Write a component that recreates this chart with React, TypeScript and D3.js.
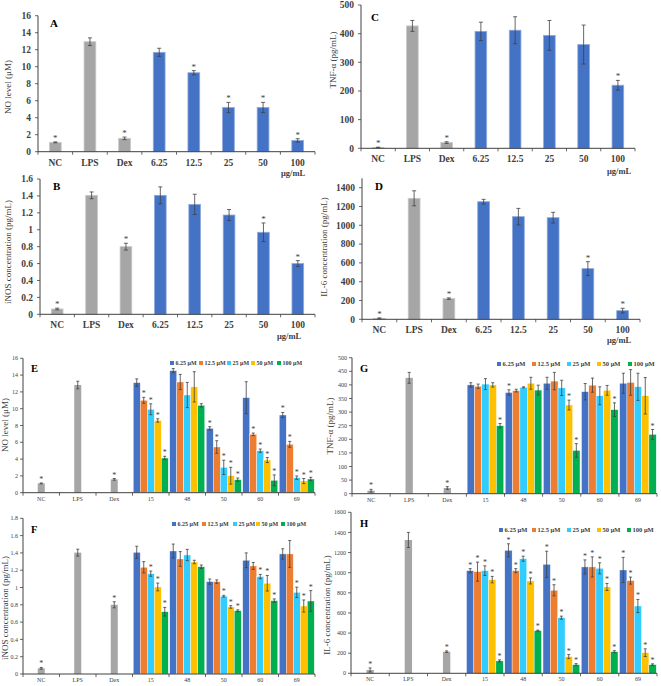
import React from "react";
import * as d3 from "d3";

// ---------- categories ----------
const topCats = ["NC", "LPS", "Dex", "6.25", "12.5", "25", "50", "100"];
const grpCats = ["NC", "LPS", "Dex", "15", "48", "50", "60", "69"];
const seriesNames = ["6.25 μM", "12.5 μM", "25 μM", "50 μM", "100 μM"];

// ---------- tick labels ----------
const ticksNO = [0, 2, 4, 6, 8, 10, 12, 14, 16];
const ticksTNF = [0, 100, 200, 300, 400, 500];
const ticksINOS = [0, 0.2, 0.4, 0.6, 0.8, 1, 1.2, 1.4, 1.6];
const ticksIL6 = [0, 200, 400, 600, 800, 1000, 1200, 1400];
const ticksTNF50 = [0, 50, 100, 150, 200, 250, 300, 350, 400, 450, 500];
const ticksINOS18 = [0, 0.2, 0.4, 0.6, 0.8, 1, 1.2, 1.4, 1.6, 1.8];
const ticksIL6b = [0, 200, 400, 600, 800, 1000, 1200, 1400, 1600];

// ---------- Panel A: NO level ----------
const aVals = [1.1, 12.94, 1.57, 11.69, 9.29, 5.2, 5.2, 1.33];
const aErr = [0.05, 0.45, 0.15, 0.48, 0.25, 0.6, 0.6, 0.2];
const aSig = [1, 0, 1, 0, 1, 1, 1, 1];

// ---------- Panel C: TNF-α ----------
const cVals = [3, 427, 20, 408, 412, 394, 362, 220];
const cErr = [1, 19, 3, 32, 47, 52, 68, 17];
const cSig = [1, 0, 1, 0, 0, 0, 0, 1];

// ---------- Panel B: iNOS ----------
const bVals = [0.063, 1.407, 0.8, 1.407, 1.3, 1.174, 0.97, 0.6];
const bErr = [0.01, 0.04, 0.04, 0.1, 0.12, 0.065, 0.11, 0.035];
const bSig = [1, 0, 1, 0, 0, 0, 1, 1];

// ---------- Panel D: IL-6 ----------
const dVals = [10, 1287, 220, 1251, 1092, 1081, 539, 92];
const dErr = [5, 80, 8, 25, 88, 57, 74, 25];
const dSig = [1, 0, 1, 0, 0, 0, 1, 1];

// ---------- Panel E: NO level (compounds) ----------
const eCtrl = [1.11, 12.82, 1.59];
const eCtrlErr = [0.05, 0.45, 0.1];
const eCtrlSig = [1, 0, 1];
const eVals = [
  [13.1, 11.0, 9.93, 8.6, 4.13],
  [14.53, 13.18, 11.63, 12.6, 10.4],
  [7.66, 5.44, 3.02, 2.02, 1.55],
  [11.31, 6.95, 5.0, 3.89, 1.47],
  [9.25, 5.76, 1.79, 1.39, 1.63],
];
const eErr = [
  [0.45, 0.35, 0.65, 0.2, 0.2],
  [0.25, 0.9, 1.5, 1.8, 0.2],
  [0.2, 0.75, 0.85, 1.0, 0.2],
  [1.9, 0.15, 0.2, 0.3, 0.65],
  [0.3, 0.35, 0.2, 0.3, 0.2],
];
const eSig = [
  [0, 1, 1, 1, 1],
  [0, 0, 0, 0, 0],
  [1, 1, 1, 1, 1],
  [0, 1, 1, 1, 1],
  [1, 1, 1, 1, 1],
];

// ---------- Panel G: TNF-α (compounds) ----------
const gCtrl = [11, 426, 21];
const gCtrlErr = [5, 20, 5];
const gCtrlSig = [1, 0, 1];
const gVals = [
  [400, 395, 403, 400, 250],
  [372, 379, 391, 406, 381],
  [406, 414, 389, 326, 159],
  [375, 399, 360, 380, 309],
  [406, 409, 393, 360, 218],
];
const gErr = [
  [8, 8, 20, 8, 8],
  [10, 5, 2, 22, 18],
  [22, 32, 28, 18, 25],
  [30, 26, 33, 18, 25],
  [37, 47, 50, 67, 18],
];
const gSig = [
  [0, 0, 0, 0, 1],
  [1, 0, 0, 0, 0],
  [0, 0, 0, 1, 1],
  [0, 0, 0, 0, 1],
  [0, 0, 0, 0, 1],
];

// ---------- Panel F: iNOS (compounds) ----------
const fCtrl = [0.066, 1.403, 0.8];
const fCtrlErr = [0.01, 0.04, 0.035];
const fCtrlSig = [1, 0, 1];
const fVals = [
  [1.407, 1.234, 1.16, 1.006, 0.72],
  [1.422, 1.33, 1.376, 1.295, 1.24],
  [1.068, 1.068, 0.9, 0.775, 0.732],
  [1.315, 1.249, 1.126, 1.049, 0.848],
  [1.388, 1.388, 0.944, 0.786, 0.844],
];
const fErr = [
  [0.07, 0.065, 0.03, 0.045, 0.05],
  [0.08, 0.085, 0.065, 0.02, 0.02],
  [0.03, 0.02, 0.01, 0.015, 0.01],
  [0.085, 0.04, 0.025, 0.09, 0.02],
  [0.06, 0.155, 0.06, 0.07, 0.12],
];
const fSig = [
  [0, 0, 1, 1, 1],
  [0, 0, 0, 0, 0],
  [0, 0, 1, 1, 1],
  [0, 0, 1, 1, 1],
  [0, 0, 1, 1, 1],
];

// ---------- Panel H: IL-6 (compounds) ----------
const hCtrl = [33, 1325, 215];
const hCtrlErr = [20, 75, 8];
const hCtrlSig = [1, 0, 1];
const hVals = [
  [1020, 1010, 1020, 931, 123],
  [1222, 1020, 1139, 918, 424],
  [1083, 825, 553, 166, 86],
  [1057, 1057, 1043, 858, 215],
  [1027, 921, 669, 205, 86],
];
const hErr = [
  [20, 95, 48, 32, 10],
  [65, 20, 25, 30, 5],
  [130, 55, 15, 20, 10],
  [70, 100, 55, 35, 10],
  [125, 35, 65, 38, 8],
];
const hSig = [
  [1, 1, 1, 1, 1],
  [1, 1, 1, 1, 1],
  [1, 1, 1, 1, 1],
  [1, 1, 1, 1, 1],
  [1, 1, 1, 1, 1],
];

// ---------- styles ----------
const SERIF = "'Liberation Serif', 'Times New Roman', serif";
const GREY = "#A6A6A6";
const BLUE = "#4472C4";
const SERIES_COLORS = ["#4472C4", "#ED7D31", "#33CCFF", "#FFC000", "#00B050"];
const AXIS = "#404040";
const TEXT = "#404040";
const ERR = "#404040";

type Frame = {
  left: number;
  right: number;
  y0: number;
  yRef: number;
  refVal: number;
  axisMax: number;
};

function YAxis({ f, y, ticks, fs, bold, gap }: any) {
  const top = y(f.axisMax);
  return (
    <g>
      <line x1={f.left} x2={f.left} y1={f.y0} y2={top} stroke={AXIS} strokeWidth={1} />
      {ticks.map((t: number) => (
        <g key={t}>
          <line x1={f.left - 3} x2={f.left} y1={y(t)} y2={y(t)} stroke={AXIS} strokeWidth={0.8} />
          <text
            x={f.left - gap}
            y={y(t)}
            dy="0.35em"
            textAnchor="end"
            fontSize={fs}
            fontWeight={bold ? "bold" : "normal"}
            fill={TEXT}
            fontFamily={SERIF}
          >
            {String(t)}
          </text>
        </g>
      ))}
    </g>
  );
}

function XAxis({ f, x, cats, fs, bold, dy }: any) {
  return (
    <g>
      <line x1={f.left} x2={f.right} y1={f.y0} y2={f.y0} stroke={AXIS} strokeWidth={1} />
      {cats.map((c: string, i: number) => (
        <g key={c + i}>
          <line
            x1={(x(c) as number) + (i === 0 ? 0 : 0)}
            x2={x(c) as number}
            y1={f.y0}
            y2={f.y0 + 3}
            stroke={AXIS}
            strokeWidth={0.8}
          />
          <text
            x={(x(c) as number) + x.bandwidth() / 2}
            y={f.y0 + dy}
            textAnchor="middle"
            fontSize={fs}
            fontWeight={bold ? "bold" : "normal"}
            fill={TEXT}
            fontFamily={SERIF}
          >
            {c}
          </text>
        </g>
      ))}
      <line x1={f.right} x2={f.right} y1={f.y0} y2={f.y0 + 3} stroke={AXIS} strokeWidth={0.8} />
    </g>
  );
}

function ErrBar({ cx, y, v, e, cap }: any) {
  const yt = y(v + e);
  const yb = y(Math.max(0, v - e));
  return (
    <g stroke={ERR} strokeWidth={0.8}>
      <line x1={cx} x2={cx} y1={yt} y2={yb} />
      <line x1={cx - cap / 2} x2={cx + cap / 2} y1={yt} y2={yt} />
      <line x1={cx - cap / 2} x2={cx + cap / 2} y1={yb} y2={yb} />
    </g>
  );
}

function Star({ cx, yy, fs }: any) {
  return (
    <text x={cx} y={yy} textAnchor="middle" fontSize={fs} fill="#404040" fontFamily={SERIF}>
      *
    </text>
  );
}

function YLabel({ x, y, text, fs }: any) {
  return (
    <text
      transform={`translate(${x},${y}) rotate(-90)`}
      textAnchor="middle"
      fontSize={fs}
      fill={TEXT}
      fontFamily={SERIF}
    >
      {text}
    </text>
  );
}

function TopPanel(p: any) {
  const f: Frame = p.frame;
  const y = d3.scaleLinear().domain([0, f.refVal]).range([f.y0, f.yRef]);
  const x = d3.scaleBand<string>().domain(topCats).range([f.left, f.right]);
  const bw = x.bandwidth() * 0.34;
  return (
    <g>
      <YAxis f={f} y={y} ticks={p.ticks} fs={9.5} bold gap={7} />
      {topCats.map((c, i) => {
        const cx = (x(c) as number) + x.bandwidth() / 2;
        const v = p.vals[i];
        const e = p.errs[i];
        return (
          <g key={c}>
            <rect
              x={cx - bw / 2}
              y={y(v)}
              width={bw}
              height={f.y0 - y(v)}
              fill={i < 3 ? GREY : BLUE}
              stroke={i < 3 ? "#C9C9C9" : "#8FAADC"}
              strokeWidth={0.8}
            />
            <ErrBar cx={cx} y={y} v={v} e={e} cap={4} />
            {p.sig[i] ? <Star cx={cx} yy={y(v + e) - 1} fs={9} /> : null}
          </g>
        );
      })}
      <XAxis f={f} x={x} cats={topCats} fs={9.5} bold dy={14} />
      <text x={p.letterX} y={p.letterY} fontSize={11} fontWeight="bold" fontFamily={SERIF} fill="#000">
        {p.letter}
      </text>
      <YLabel x={p.ylx} y={p.yly} text={p.ylabel} fs={9} />
      <text x={p.unitX} y={p.unitY} fontSize={8.5} fontWeight="bold" fontFamily={SERIF} fill={TEXT}>
        μg/mL
      </text>
    </g>
  );
}

function GroupPanel(p: any) {
  const f: Frame = p.frame;
  const y = d3.scaleLinear().domain([0, f.refVal]).range([f.y0, f.yRef]);
  const x = d3.scaleBand<string>().domain(grpCats).range([f.left, f.right]);
  const inner = d3
    .scaleBand<string>()
    .domain(seriesNames)
    .range([x.bandwidth() * 0.02, x.bandwidth() * 0.98]);
  const sbw = inner.bandwidth();
  return (
    <g>
      <YAxis f={f} y={y} ticks={p.ticks} fs={6} bold={false} gap={5} />
      {p.ctrl.map((v: number, i: number) => {
        const c = grpCats[i];
        const cx = (x(c) as number) + x.bandwidth() / 2;
        const e = p.ctrlErr[i];
        return (
          <g key={c}>
            <rect x={cx - sbw / 2} y={y(v)} width={sbw} height={f.y0 - y(v)} fill={GREY} />
            <ErrBar cx={cx} y={y} v={v} e={e} cap={3} />
            {p.ctrlSig[i] ? <Star cx={cx} yy={y(v + e) - 1} fs={8} /> : null}
          </g>
        );
      })}
      {p.vals.map((row: number[], gi: number) => {
        const c = grpCats[gi + 3];
        const gx = x(c) as number;
        return (
          <g key={c}>
            {row.map((v, si) => {
              const bx = gx + (inner(seriesNames[si]) as number);
              const cx = bx + sbw / 2;
              const e = p.errs[gi][si];
              return (
                <g key={si}>
                  <rect
                    x={bx}
                    y={y(v)}
                    width={sbw}
                    height={f.y0 - y(v)}
                    fill={SERIES_COLORS[si]}
                    stroke="#ffffff"
                    strokeWidth={0.4}
                  />
                  <ErrBar cx={cx} y={y} v={v} e={e} cap={3} />
                  {p.sig[gi][si] ? <Star cx={cx} yy={y(v + e) - 1} fs={8} /> : null}
                </g>
              );
            })}
          </g>
        );
      })}
      <XAxis f={f} x={x} cats={grpCats} fs={6} bold={false} dy={8} />
      <text x={p.letterX} y={p.letterY} fontSize={10.5} fontWeight="bold" fontFamily={SERIF} fill="#000">
        {p.letter}
      </text>
      <YLabel x={p.ylx} y={p.yly} text={p.ylabel} fs={9} />
      {seriesNames.map((s, i) => (
        <g key={s} transform={`translate(${p.legX + p.legOff[i]},${p.legY})`}>
          <rect x={0} y={-2} width={4} height={4} fill={SERIES_COLORS[i]} />
          <text x={5.5} y={0} dy="0.35em" fontSize={p.legFs} fontFamily={SERIF} fill={TEXT} fontWeight="bold">
            {s}
          </text>
        </g>
      ))}
    </g>
  );
}

export default function App() {
  return (
    <svg
      width={661}
      height={686}
      style={{ position: "absolute", left: 0, top: 0, background: "#fff" }}
    >
      <rect width={661} height={686} fill="#fff" />
      <TopPanel
        frame={{ left: 38, right: 315, y0: 151.7, yRef: 15.7, refVal: 16, axisMax: 16 }}
        ticks={ticksNO}
        vals={aVals}
        errs={aErr}
        sig={aSig}
        letter="A"
        letterX={50}
        letterY={27}
        ylabel="NO level (μM)"
        ylx={11}
        yly={87}
        unitX={281}
        unitY={176}
      />
      <TopPanel
        frame={{ left: 361, right: 635, y0: 148.3, yRef: 5, refVal: 500, axisMax: 500 }}
        ticks={ticksTNF}
        vals={cVals}
        errs={cErr}
        sig={cSig}
        letter="C"
        letterX={371}
        letterY={21}
        ylabel="TNF-α (pg/mL)"
        ylx={336}
        yly={60}
        unitX={607}
        unitY={174}
      />
      <TopPanel
        frame={{ left: 40, right: 315, y0: 314.3, yRef: 179, refVal: 1.6, axisMax: 1.6 }}
        ticks={ticksINOS}
        vals={bVals}
        errs={bErr}
        sig={bSig}
        letter="B"
        letterX={53}
        letterY={190}
        ylabel="iNOS concentration (pg/mL)"
        ylx={11}
        yly={252}
        unitX={277}
        unitY={339}
      />
      <TopPanel
        frame={{ left: 362, right: 640, y0: 319.3, yRef: 187.7, refVal: 1400, axisMax: 1500 }}
        ticks={ticksIL6}
        vals={dVals}
        errs={dErr}
        sig={dSig}
        letter="D"
        letterX={375}
        letterY={190}
        ylabel="IL-6 concentration (pg/mL)"
        ylx={327}
        yly={247}
        unitX={607}
        unitY={343}
      />
      <GroupPanel
        frame={{ left: 23, right: 315, y0: 492.7, yRef: 358.3, refVal: 16, axisMax: 16 }}
        ticks={ticksNO}
        ctrl={eCtrl}
        ctrlErr={eCtrlErr}
        ctrlSig={eCtrlSig}
        vals={eVals}
        errs={eErr}
        sig={eSig}
        letter="E"
        letterX={31}
        letterY={372}
        ylabel="NO level (μM)"
        ylx={8}
        yly={425}
        legX={170}
        legY={363}
        legOff={[0, 29, 57, 81, 107]}
        legFs={6}
      />
      <GroupPanel
        frame={{ left: 352, right: 657, y0: 493.7, yRef: 357.7, refVal: 500, axisMax: 500 }}
        ticks={ticksTNF50}
        ctrl={gCtrl}
        ctrlErr={gCtrlErr}
        ctrlSig={gCtrlSig}
        vals={gVals}
        errs={gErr}
        sig={gSig}
        letter="G"
        letterX={360}
        letterY={372}
        ylabel="TNF-α (pg/mL)"
        ylx={333}
        yly={426}
        legX={497}
        legY={364}
        legOff={[0, 35, 70, 100, 131]}
        legFs={6.5}
      />
      <GroupPanel
        frame={{ left: 23, right: 315, y0: 674, yRef: 518.3, refVal: 1.8, axisMax: 1.8 }}
        ticks={ticksINOS18}
        ctrl={fCtrl}
        ctrlErr={fCtrlErr}
        ctrlSig={fCtrlSig}
        vals={fVals}
        errs={fErr}
        sig={fSig}
        letter="F"
        letterX={31}
        letterY={533}
        ylabel="iNOS concentration (pg/mL)"
        ylx={8}
        yly={608}
        legX={172}
        legY={524}
        legOff={[0, 30, 61, 84, 109]}
        legFs={6}
      />
      <GroupPanel
        frame={{ left: 351, right: 657, y0: 673.3, yRef: 512.3, refVal: 1600, axisMax: 1600 }}
        ticks={ticksIL6b}
        ctrl={hCtrl}
        ctrlErr={hCtrlErr}
        ctrlSig={hCtrlSig}
        vals={hVals}
        errs={hErr}
        sig={hSig}
        letter="H"
        letterX={360}
        letterY={527}
        ylabel="IL-6 concentration (pg/mL)"
        ylx={330}
        yly={605}
        legX={499}
        legY={530}
        legOff={[0, 33, 68, 98, 128]}
        legFs={6.5}
      />
    </svg>
  );
}
